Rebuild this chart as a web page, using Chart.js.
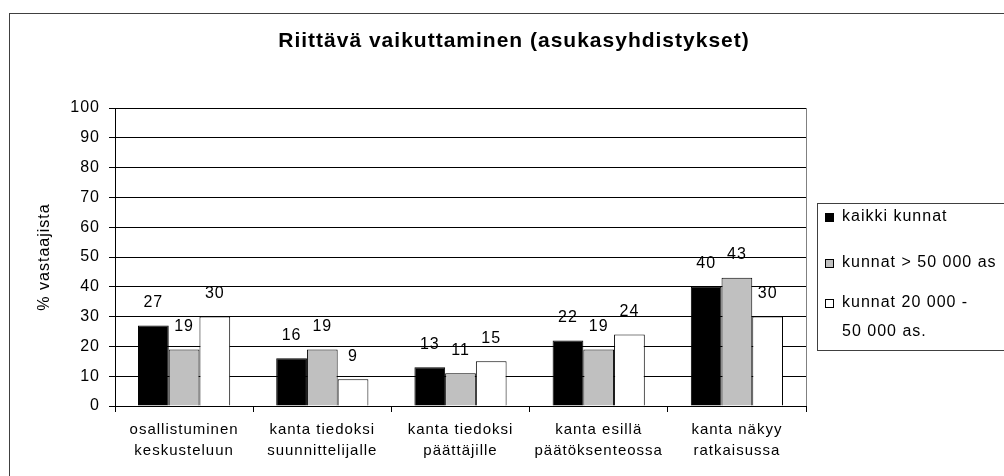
<!DOCTYPE html>
<html>
<head>
<meta charset="utf-8">
<script src="https://cdn.jsdelivr.net/npm/chart.js@4/dist/chart.umd.min.js"></script>
<style>
  body { margin: 0; background: #fff; }
</style>
</head>
<body>
<canvas id="chart" width="1004" height="476"></canvas>
<script>
// data
const categories = [
  ['osallistuminen', 'keskusteluun'],
  ['kanta tiedoksi', 'suunnittelijalle'],
  ['kanta tiedoksi', 'päättäjille'],
  ['kanta esillä', 'päätöksenteossa'],
  ['kanta näkyy', 'ratkaisussa']
];
const seriesNames = ['kaikki kunnat', 'kunnat > 50 000 as', ['kunnat 20 000 -', '50 000 as.']];
const allMunicipalities = [27, 16, 13, 22, 40];
const over50k = [19, 19, 11, 19, 43];
const from20to50k = [30, 9, 15, 24, 30];
const seriesColors = ['#000000', '#c0c0c0', '#ffffff'];
const yTicks = [0, 10, 20, 30, 40, 50, 60, 70, 80, 90, 100];
const chartTitle = 'Riittävä vaikuttaminen (asukasyhdistykset)';

const FONT = 'Liberation Sans, Arial, sans-serif';
const SPACING = '1px'; // the original text is set rather loosely

// canvas state is reset whenever chart.js sizes the canvas, so set it again each time
const loosen = {
  id: 'loosen',
  beforeUpdate(chart) { chart.ctx.letterSpacing = SPACING; },
  beforeLayout(chart) { chart.ctx.letterSpacing = SPACING; },
  beforeDraw(chart) { chart.ctx.letterSpacing = SPACING; }
};

// outer frame of the chart object (runs off the right/bottom edge) + title
const framePlugin = {
  id: 'frame',
  beforeDraw(chart) {
    const ctx = chart.ctx;
    ctx.save();
    ctx.fillStyle = '#fff';
    ctx.fillRect(0, 0, chart.width, chart.height);
    ctx.strokeStyle = '#404040';
    ctx.lineWidth = 1;
    ctx.strokeRect(9.5, 13.5, chart.width + 20, chart.height + 20);
    // right border of plot area
    const a = chart.chartArea;
    ctx.strokeStyle = '#808080';
    ctx.beginPath();
    ctx.moveTo(Math.round(a.right) + 0.5, a.top);
    ctx.lineTo(Math.round(a.right) + 0.5, a.bottom);
    ctx.stroke();
    // title, centred on the whole object not just the plot
    ctx.fillStyle = '#000';
    ctx.font = 'bold 21px ' + FONT;
    ctx.textAlign = 'center';
    ctx.textBaseline = 'middle';
    ctx.fillText(chartTitle, 514, 41);
    ctx.restore();
  }
};

// value labels above each bar
const valueLabels = {
  id: 'valueLabels',
  afterDatasetsDraw(chart) {
    const ctx = chart.ctx;
    ctx.save();
    ctx.font = '16px ' + FONT;
    ctx.fillStyle = '#000';
    ctx.textAlign = 'center';
    ctx.textBaseline = 'middle';
    chart.data.datasets.forEach((ds, i) => {
      chart.getDatasetMeta(i).data.forEach((bar, j) => {
        ctx.fillText(String(ds.data[j]), bar.x, bar.y - 23);
      });
    });
    ctx.restore();
  }
};

// boxed legend on the right, like the original
const boxLegend = {
  id: 'boxLegend',
  afterDraw(chart) {
    const ctx = chart.ctx;
    const x = 817, y = 203, h = 147;
    ctx.save();
    ctx.strokeStyle = '#404040';
    ctx.lineWidth = 1;
    ctx.strokeRect(x + 0.5, y + 0.5, 300, h);
    ctx.font = '16px ' + FONT;
    ctx.textBaseline = 'middle';
    ctx.textAlign = 'left';
    const rows = [217, 263, 303];
    chart.data.datasets.forEach((ds, i) => {
      const ry = rows[i];
      ctx.fillStyle = ds.backgroundColor;
      ctx.fillRect(825, ry - 4, 9, 9);
      ctx.strokeStyle = '#000';
      ctx.strokeRect(825.5, ry - 3.5, 8, 8);
      ctx.fillStyle = '#000';
      const lines = Array.isArray(ds.label) ? ds.label : [ds.label];
      lines.forEach((t, k) => ctx.fillText(t, 842, ry + k * 29));
    });
    ctx.restore();
  }
};

const ctx = document.getElementById('chart').getContext('2d');

new Chart(ctx, {
  type: 'bar',
  data: {
    labels: categories,
    datasets: [allMunicipalities, over50k, from20to50k].map((d, i) => ({
      label: seriesNames[i],
      data: d,
      backgroundColor: seriesColors[i],
      borderColor: '#000',
      borderWidth: 1,
      borderSkipped: 'start',
      categoryPercentage: 0.667,
      barPercentage: 1
    }))
  },
  options: {
    responsive: false,
    animation: false,
    layout: { padding: { left: 0, right: 198, top: 108, bottom: 0 } },
    plugins: {
      legend: { display: false },
      tooltip: { enabled: false },
      title: { display: false }
    },
    scales: {
      x: {
        grid: {
          display: true,
          offset: true,
          drawOnChartArea: false,
          tickLength: 6,
          color: '#000'
        },
        border: { color: '#000' },
        ticks: {
          color: '#000',
          font: { family: FONT, size: 15, lineHeight: 1.4 },
          padding: 7,
          maxRotation: 0,
          autoSkip: false
        },
        afterFit(scale) { scale.height = 70; }
      },
      y: {
        min: 0,
        max: 100,
        afterBuildTicks(scale) { scale.ticks = yTicks.map(v => ({ value: v })); },
        grid: { color: '#000', tickLength: 6 },
        border: { color: '#000' },
        ticks: {
          color: '#000',
          font: { family: FONT, size: 16 },
          padding: 9
        },
        title: {
          display: true,
          text: '% vastaajista',
          color: '#000',
          font: { family: FONT, size: 16 },
          padding: { top: 35, bottom: 0 }
        },
        afterFit(scale) { scale.width = 115; }
      }
    }
  },
  plugins: [loosen, framePlugin, valueLabels, boxLegend]
});
</script>
</body>
</html>
